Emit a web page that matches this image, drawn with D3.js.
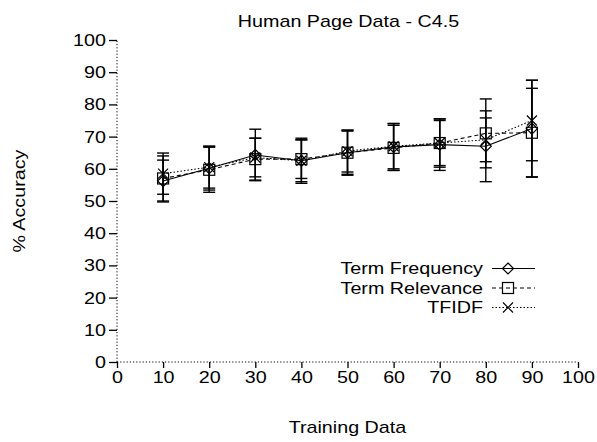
<!DOCTYPE html>
<html><head><meta charset="utf-8">
<script src="https://cdn.jsdelivr.net/npm/d3@7"></script>
<style>
body{margin:0;background:#fff}svg{display:block}
text{font-family:"Liberation Sans",Arial,sans-serif;fill:#000;font-size:17px;transform-box:fill-box}
.sc{transform-origin:center;transform:scaleX(1.16)}
.sr{transform-origin:right center;transform:scaleX(1.16)}
</style>
</head><body><svg id="c" width="597" height="442"></svg>
<script>
const trainingData = [10,20,30,40,50,60,70,80,90];
const seriesNames = ["Term Frequency","Term Relevance","TFIDF"];
const tfMean   = [56.2,60.2,64.3,62.5,65.0,66.8,67.5,67.0,72.5];
const tfSd     = [6.5,6.8,8.0,7.0,6.7,7.3,8.0,11.0,15.0];
const trMean   = [57.0,59.7,63.0,63.0,65.0,66.5,68.0,71.0,71.2];
const trSd     = [7.0,7.0,6.5,6.0,7.0,7.0,7.5,10.7,13.8];
const tfidfMean= [58.5,60.5,63.5,62.5,65.5,67.0,68.0,69.0,75.0];
const tfidfSd  = [6.4,6.5,6.0,6.5,6.5,7.0,7.0,6.8,12.5];
const xTicks = [0,10,20,30,40,50,60,70,80,90,100];
const yTicks = [0,10,20,30,40,50,60,70,80,90,100];

const svg = d3.select("#c");
const x = d3.scaleLinear().domain([0,100]).range([117,578]);
const y = d3.scaleLinear().domain([0,100]).range([362,40]);

const yAxis = d3.axisLeft(y).tickValues(yTicks).tickSize(8).tickPadding(3).tickFormat(d3.format("d"));
const gy = svg.append("g").attr("transform",`translate(${x(0)},0)`).call(yAxis);
const xAxis = d3.axisBottom(x).tickValues(xTicks).tickSize(6).tickPadding(3).tickFormat(d3.format("d"));
const gx = svg.append("g").attr("transform",`translate(0,${y(0)})`).call(xAxis);
[gx,gy].forEach(g=>{
  g.select(".domain").remove();
  g.selectAll(".tick line").attr("stroke","#000").attr("stroke-width",1.3);
  g.selectAll(".tick text").attr("fill","#000").style("font-size","17px").style("font-family",null);
});
gx.selectAll(".tick text").attr("class","sc");
gy.selectAll(".tick text").attr("class","sr");
svg.append("line").attr("x1",x(0)).attr("x2",x(0)).attr("y1",y(0)).attr("y2",y(100))
  .attr("stroke","#000").attr("stroke-width",1).attr("stroke-dasharray","1.2,2");
svg.append("line").attr("x1",x(0)).attr("x2",x(100)).attr("y1",y(0)).attr("y2",y(0))
  .attr("stroke","#000").attr("stroke-width",1).attr("stroke-dasharray","1.2,2");

svg.append("text").attr("class","sc").attr("x",348.5).attr("y",27).attr("text-anchor","middle").text("Human Page Data - C4.5");
svg.append("text").attr("class","sc").attr("x",x(50)).attr("y",433).attr("text-anchor","middle").text("Training Data");
svg.append("g").attr("transform",`translate(25,${y(50)}) rotate(-90)`)
  .append("text").attr("class","sc").attr("text-anchor","middle").text("% Accuracy");

const series = [
  {name:seriesNames[0], mean:tfMean, sd:tfSd, dash:null, marker:"diamond"},
  {name:seriesNames[1], mean:trMean, sd:trSd, dash:"4,3", marker:"square"},
  {name:seriesNames[2], mean:tfidfMean, sd:tfidfSd, dash:"1.5,2", marker:"x"}
];

function drawMarker(g, type, cx, cy){
  if(type==="diamond"){
    g.append("path").attr("d",`M${cx},${cy-5.5}L${cx+5.5},${cy}L${cx},${cy+5.5}L${cx-5.5},${cy}Z`)
      .attr("fill","none").attr("stroke","#000").attr("stroke-width",1.2);
  } else if(type==="square"){
    g.append("rect").attr("x",cx-5.5).attr("y",cy-5.5).attr("width",11).attr("height",11)
      .attr("fill","none").attr("stroke","#000").attr("stroke-width",1.2);
  } else {
    g.append("path").attr("d",`M${cx-5},${cy-5}L${cx+5},${cy+5}M${cx-5},${cy+5}L${cx+5},${cy-5}`)
      .attr("fill","none").attr("stroke","#000").attr("stroke-width",1.2);
  }
}

const line = d3.line().x(d=>x(d[0])).y(d=>y(d[1]));
series.forEach(s=>{
  const g = svg.append("g");
  const pts = trainingData.map((t,i)=>[t,s.mean[i],s.sd[i]]);
  pts.forEach(p=>{
    const cx=x(p[0]);
    g.append("line").attr("x1",cx).attr("x2",cx).attr("y1",y(p[1]-p[2])).attr("y2",y(p[1]+p[2])).attr("stroke","#000").attr("stroke-width",1.4);
    [p[1]-p[2],p[1]+p[2]].forEach(v=>g.append("line").attr("x1",cx-6).attr("x2",cx+6).attr("y1",y(v)).attr("y2",y(v)).attr("stroke","#000").attr("stroke-width",1.4));
  });
  g.append("path").datum(pts).attr("d",line).attr("fill","none").attr("stroke","#000").attr("stroke-width",1.1)
    .attr("stroke-dasharray",s.dash);
  pts.forEach(p=>drawMarker(g,s.marker,x(p[0]),y(p[1])));
});

const lg = svg.append("g");
series.forEach((s,i)=>{
  const ly = 268.5 + i*19.5;
  lg.append("text").attr("class","sr").attr("x",483).attr("y",ly+6).attr("text-anchor","end").text(s.name);
  lg.append("line").attr("x1",492).attr("x2",535).attr("y1",ly).attr("y2",ly).attr("stroke","#000").attr("stroke-width",1.1).attr("stroke-dasharray",s.dash);
  drawMarker(lg,s.marker,508,ly);
});
</script></body></html>
